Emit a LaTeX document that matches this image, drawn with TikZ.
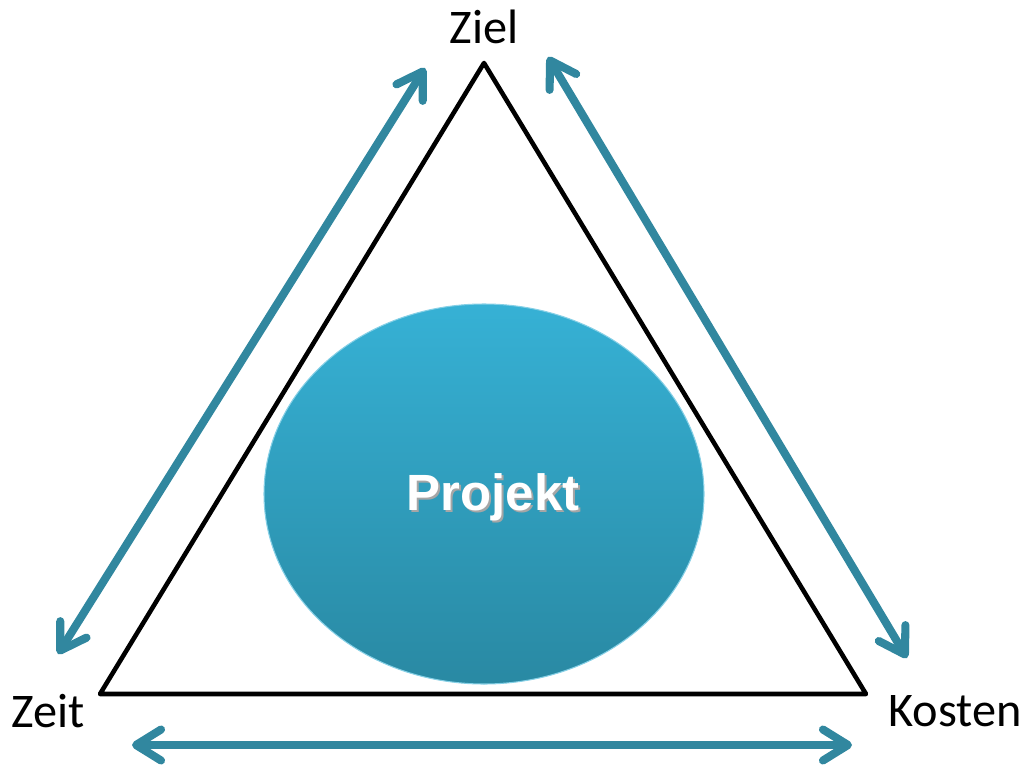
\documentclass[tikz,border=0pt]{standalone}
\usepackage{fontspec}
\setmainfont{Carlito}
\newfontfamily\projfont{Liberation Sans}
\usetikzlibrary{arrows.meta}
\definecolor{pfeil}{RGB}{49,135,159}
\definecolor{elltop}{RGB}{54,177,213}
\definecolor{ellbot}{RGB}{41,137,163}
\tikzset{
  pfeil/.style={draw=pfeil, line width=4.6pt, line cap=round,
    {Straight Barb[round,length=0.5cm,width=0.62cm]}-{Straight Barb[round,length=0.5cm,width=0.62cm]}},
  ecke/.style={font=\fontsize{27.5}{32}\selectfont},
  proj/.style={font=\projfont\bfseries\fontsize{29}{34}\selectfont}
}
\begin{document}
\begin{tikzpicture}[x=0.02cm,y=-0.02cm]
  \useasboundingbox (0,0) rectangle (1024,764);
  % Dreieck
  \coordinate (oben) at (484,63);
  \coordinate (links) at (100,694);
  \coordinate (rechts) at (866,694);
  \draw[line width=2.6pt, line join=round] (oben) -- (links) -- (rechts) -- cycle;
  % Projekt
  \shade[top color=elltop, bottom color=ellbot, draw=elltop!60!white, line width=0.6pt]
    (484,494) ellipse (220 and 190);
  \node[proj, text=black!35] (schatten) at (495,499) {Projekt};
  \node[proj, text=white] (projekt) at (493,497) {Projekt};
  % Beschriftung
  \node[ecke] (ziel) at (484,27) {Ziel};
  \node[ecke] (zeit) at (48,711) {Zeit};
  \node[ecke] (kosten) at (955,711) {Kosten};
  % Pfeile
  \coordinate (a1) at (58,654);
  \coordinate (a2) at (425,68);
  \coordinate (b1) at (548,57);
  \coordinate (b2) at (907,658);
  \coordinate (c1) at (132,745);
  \coordinate (c2) at (852,745);
  \draw[pfeil] (a1) -- (a2);
  \draw[pfeil] (b1) -- (b2);
  \draw[pfeil] (c1) -- (c2);
\end{tikzpicture}
\end{document}
